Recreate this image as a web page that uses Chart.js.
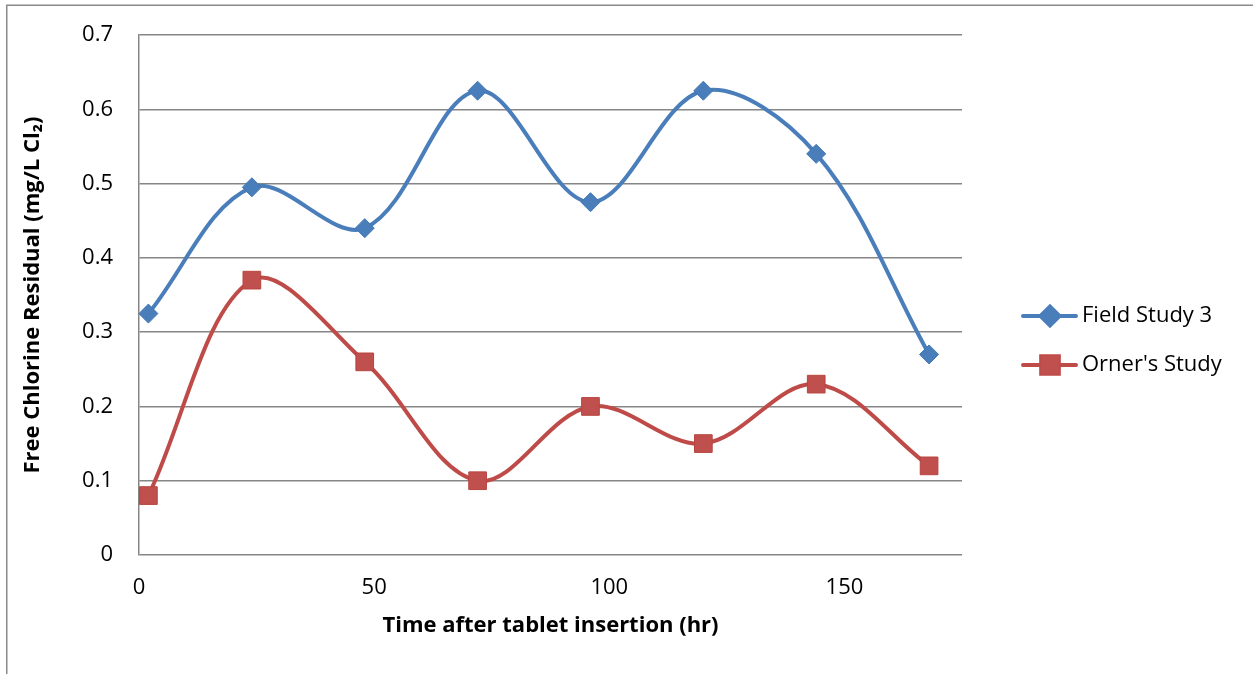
<!DOCTYPE html>
<html>
<head>
<meta charset="utf-8">
<title>Free Chlorine Residual</title>
<script src="https://cdn.jsdelivr.net/npm/chart.js@4/dist/chart.umd.min.js"></script>
<style>
  html, body { margin: 0; padding: 0; background: #ffffff; }
  #wrap { position: relative; width: 1253px; height: 674px; }
</style>
</head>
<body>
<div id="wrap"><canvas id="chart" width="1253" height="674"></canvas></div>
<script>
// Sampling times (hours after tablet insertion)
const hours = [2, 24, 48, 72, 96, 120, 144, 168];
// Free chlorine residual, mg/L Cl2
const fieldStudy3 = [0.325, 0.495, 0.44, 0.625, 0.475, 0.625, 0.54, 0.27];
const ornersStudy = [0.08, 0.37, 0.26, 0.10, 0.20, 0.15, 0.23, 0.12];
const seriesNames = ['Field Study 3', "Orner's Study"];
const xTicks = [0, 50, 100, 150];

const FONT = "'Open Sans', 'DejaVu Sans', sans-serif";
const BLUE = '#4a7ebb';
const RED = '#be4b48';
const GRID = '#868686';

const toPoints = ys => hours.map((h, i) => ({ x: h, y: ys[i] }));

// Outer frame and a legend drawn as line + marker samples
const framePlugin = {
  id: 'frameAndLegend',
  beforeDraw(chart) {
    const ctx = chart.ctx;
    ctx.save();
    ctx.fillStyle = '#ffffff';
    ctx.fillRect(0, 0, chart.width, chart.height);
    ctx.strokeStyle = '#8a8a8a';
    ctx.lineWidth = 1.5;
    ctx.beginPath();
    ctx.moveTo(6.75, chart.height + 2);
    ctx.lineTo(6.75, 5.25);
    ctx.lineTo(chart.width + 2, 5.25);
    ctx.stroke();
    ctx.restore();
  },
  afterDraw(chart) {
    const ctx = chart.ctx;
    const rows = [316, 365];
    ctx.save();
    chart.data.datasets.forEach((ds, i) => {
      const y = rows[i];
      ctx.strokeStyle = ds.borderColor;
      ctx.lineWidth = ds.borderWidth;
      ctx.lineCap = 'round';
      ctx.beginPath();
      ctx.moveTo(1023, y);
      ctx.lineTo(1076, y);
      ctx.stroke();
      Chart.helpers.drawPoint(ctx, {
        pointStyle: ds.pointStyle,
        radius: ds.pointRadius,
        borderWidth: 1
      }, 1050, y);
      ctx.fillStyle = ds.pointBackgroundColor;
      ctx.strokeStyle = ds.pointBorderColor;
      ctx.fill();
      ctx.fillStyle = '#000000';
      ctx.font = "22px " + FONT;
      ctx.textAlign = 'left';
      ctx.textBaseline = 'middle';
      ctx.fillText(ds.label, 1082, y);
    });
    ctx.restore();
  }
};

new Chart(document.getElementById('chart'), {
  type: 'line',
  data: {
    datasets: [
      {
        label: seriesNames[0],
        data: toPoints(fieldStudy3),
        borderColor: BLUE,
        borderWidth: 4,
        tension: 0.35,
        pointStyle: 'rectRot',
        pointRadius: 9.5,
        pointBackgroundColor: BLUE,
        pointBorderColor: '#4177b5',
        pointBorderWidth: 1,
        fill: false
      },
      {
        label: seriesNames[1],
        data: toPoints(ornersStudy),
        borderColor: RED,
        borderWidth: 4,
        tension: 0.35,
        pointStyle: 'rect',
        pointRadius: 12.5,
        pointBackgroundColor: '#c0504d',
        pointBorderColor: '#b8443f',
        pointBorderWidth: 1,
        fill: false
      }
    ]
  },
  options: {
    responsive: false,
    animation: false,
    events: [],
    layout: { padding: { left: 0, top: 35, right: 291, bottom: 0 } },
    plugins: {
      legend: { display: false },
      tooltip: { enabled: false }
    },
    elements: { line: { capBezierPoints: false } },
    scales: {
      x: {
        type: 'linear',
        min: 0,
        max: 175,
        afterBuildTicks: s => { s.ticks = xTicks.map(v => ({ value: v })); },
        afterFit: s => { s.height = 119; s.paddingLeft = 0; s.paddingRight = 0; },
        grid: { display: false, drawTicks: false },
        border: { display: false },
        ticks: {
          color: '#000000',
          padding: 20,
          maxRotation: 0,
          font: { family: FONT, size: 22 }
        },
        title: {
          display: true,
          text: 'Time after tablet insertion (hr)',
          color: '#000000',
          font: { family: FONT, size: 22, weight: 'bold' },
          padding: { top: 0, bottom: 35 }
        }
      },
      y: {
        min: 0,
        max: 0.7,
        afterFit: s => { s.width = 139; s.paddingTop = 0; s.paddingBottom = 0; },
        grid: { color: GRID, lineWidth: 1.5, drawTicks: false },
        border: { display: true, color: GRID, width: 1.5 },
        ticks: {
          stepSize: 0.1,
          color: '#000000',
          padding: 26,
          font: { family: FONT, size: 22 },
          callback: v => (Math.abs(v) < 1e-9 ? '0' : v.toFixed(1))
        },
        title: {
          display: true,
          text: 'Free Chlorine Residual (mg/L Cl\u2082)',
          color: '#000000',
          font: { family: FONT, size: 22, weight: 'bold' },
          padding: { top: 20, bottom: 0 }
        }
      }
    }
  },
  plugins: [framePlugin]
});
</script>
</body>
</html>
